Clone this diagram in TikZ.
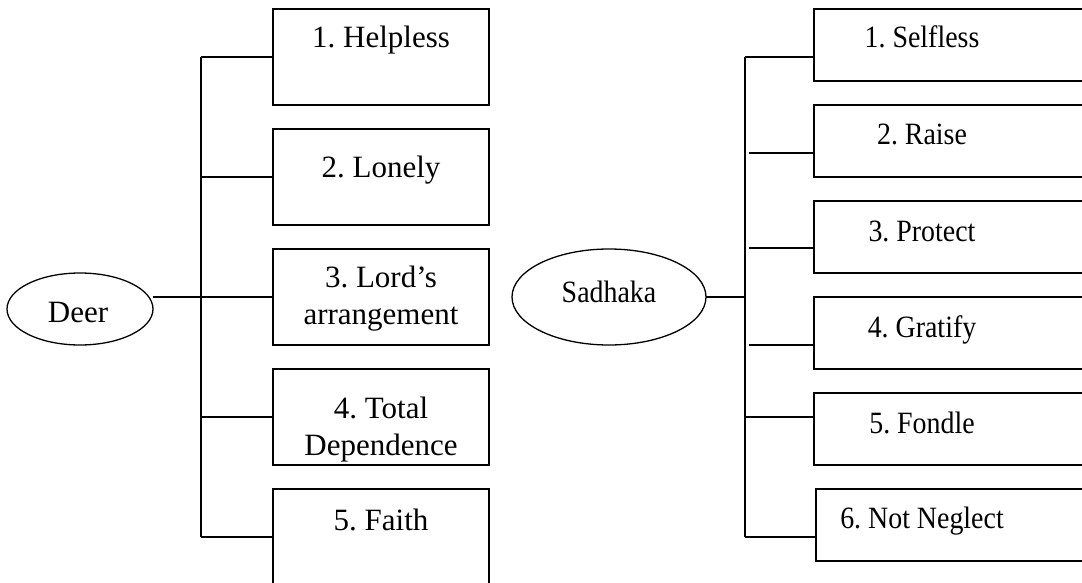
\documentclass[tikz,border=0pt]{standalone}
\usepackage{fontspec}
\setmainfont{Liberation Serif}
\usetikzlibrary{shapes.geometric}
\newcommand{\narrow}[1]{\scalebox{0.9}[1]{#1}}
\begin{document}
\frenchspacing
\begin{tikzpicture}[x=1pt,y=-1pt,
  box/.style={draw, line width=1.8pt, rectangle, inner sep=0pt, outer sep=0pt, anchor=north west, minimum width=216pt, minimum height=96pt},
  rbox/.style={box, minimum width=290pt, minimum height=72pt},
  oval/.style={draw, ellipse, line width=1.3pt, inner sep=0pt, outer sep=0pt},
  lbl/.style={font=\fontsize{31}{37}\selectfont, inner sep=0pt, anchor=base, align=center},
  wire/.style={line width=1.6pt}]
\clip (0,0) rectangle (1082,583);
\fill[white] (0,0) rectangle (1082,583);

% ---------- Deer ----------
\node[oval, minimum width=146pt, minimum height=72pt] (deer) at (80,309) {};
\node[lbl] (deertxt) at (78,322) {Deer};

\node[box] (l1) at (273,9) {};
\node[box] (l2) at (273,129) {};
\node[box] (l3) at (273,249) {};
\node[box] (l4) at (273,369) {};
\node[box] (l5) at (273,489) {};

\node[lbl] (lt1) at (381,48) {1. Helpless};
\node[lbl] (lt2) at (381,178) {2. Lonely};
\node[lbl] (lt3) at (381,324) {3. Lord’s\\arrangement};
\node[lbl] (lt4) at (381,455) {4. Total\\Dependence};
\node[lbl] (lt5) at (381,530) {5. Faith};

\coordinate (lvt) at (201,57);
\coordinate (lvb) at (201,537);
\draw[wire] (lvt) -- (lvb);
\draw[wire] (lvt) -- (l1.west);
\draw[wire] (l2.west -| lvt) -- (l2.west);
\draw[wire] (deer.east |- l3.west) -- (l3.west);
\draw[wire] (l4.west -| lvt) -- (l4.west);
\draw[wire] (lvb) -- (lvb -| l5.west);

% ---------- Sadhaka ----------
\node[oval, minimum width=194pt, minimum height=96pt] (sad) at (609,297) {};
\node[lbl] (sadtxt) at (609,302) {\narrow{Sadhaka}};

\node[rbox] (r1) at (814,9) {};
\node[rbox] (r2) at (814,105) {};
\node[rbox] (r3) at (814,201) {};
\node[rbox] (r4) at (814,297) {};
\node[rbox] (r5) at (814,393) {};
\node[rbox] (r6) at (816,489) {};

\node[lbl] (rt1) at (922,48) {\narrow{1. Selfless}};
\node[lbl] (rt2) at (922,145) {\narrow{2. Raise}};
\node[lbl] (rt3) at (922,241) {\narrow{3. Protect}};
\node[lbl] (rt4) at (922,337) {\narrow{4. Gratify}};
\node[lbl] (rt5) at (922,433) {\narrow{5. Fondle}};
\node[lbl] (rt6) at (922,528) {\narrow{6. Not Neglect}};

\coordinate (rvt) at (745,57);
\coordinate (rvb) at (745,537);
\coordinate (rj2) at (749,153);
\coordinate (rj3) at (749,248);
\coordinate (rj4) at (749,345);
\coordinate (rj5) at (745,417);
\draw[wire] (rvt) -- (rvb);
\draw[wire] (rvt) -- (rvt -| r1.west);
\draw[wire] (rj2) -- (rj2 -| r2.west);
\draw[wire] (rj3) -- (rj3 -| r3.west);
\draw[wire] (sad.east) -- (sad.east -| rvt);
\draw[wire] (rj4) -- (rj4 -| r4.west);
\draw[wire] (rj5) -- (rj5 -| r5.west);
\draw[wire] (rvb) -- (rvb -| r6.west);
\end{tikzpicture}
\end{document}
